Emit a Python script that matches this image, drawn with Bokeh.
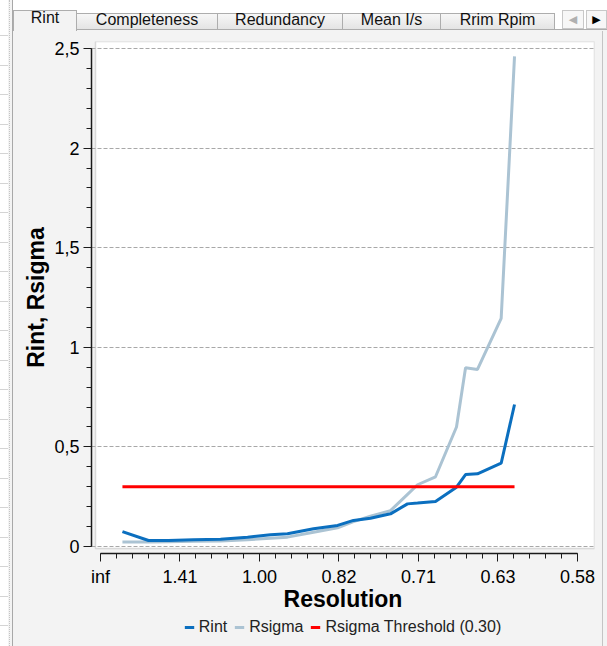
from bokeh.plotting import figure
from bokeh.layouts import column, row
from bokeh.models import FixedTicker, Legend, LegendItem, BoxAnnotation, Range1d, Div
from bokeh.embed import file_html
from bokeh.resources import INLINE

# ---- data (x in 1/d^2 units, labelled as resolution d) ----
x_tick_pos = [0.0, 0.5, 1.0, 1.5, 2.0, 2.5, 3.0]
resolution_labels = ["inf", "1.41", "1.00", "0.82", "0.71", "0.63", "0.58"]
y_tick_pos = [0.0, 0.5, 1.0, 1.5, 2.0, 2.5]
y_tick_labels = ["0", "0,5", "1", "1,5", "2", "2,5"]

inv_d2 = [0.138, 0.302, 0.428, 0.585, 0.755, 0.925, 1.069, 1.176, 1.340, 1.491, 1.591,
          1.698, 1.824, 1.931, 1.994, 2.107, 2.239, 2.296, 2.371, 2.520, 2.604]
rint = [0.075, 0.030, 0.030, 0.034, 0.037, 0.047, 0.059, 0.064, 0.089, 0.106, 0.131,
        0.142, 0.164, 0.214, 0.218, 0.226, 0.298, 0.361, 0.365, 0.418, 0.713]
rsigma = [0.022, 0.022, 0.024, 0.026, 0.028, 0.034, 0.042, 0.047, 0.072, 0.094, 0.125,
          0.152, 0.180, 0.262, 0.310, 0.350, 0.600, 0.897, 0.889, 1.145, 2.460]
threshold = 0.30

series_names = ["Rint", "Rsigma", "Rsigma Threshold (0.30)"]
series_colors = ["#0b6fbf", "#abc3d3", "#ff0000"]

tab_names = ["Rint", "Completeness", "Redundancy", "Mean I/s", "Rrim Rpim"]
tab_edges = [0, 63, 204, 329, 427, 541]

FONT = "Liberation Sans"
BG = "#f3f3f3"
LW = 13          # left strip width
RW = 6           # right strip width
TW = 607 - LW    # tab strip width
W = TW - RW      # chart width
TH = 31          # tab strip height
MH = 586         # main chart height
LH = 646 - TH - MH

# ---------------- left strip ----------------
left_html = (
    f"<div style='position:relative;width:{LW}px;height:646px;background:{BG};overflow:hidden'>"
    "<div style='position:absolute;left:0;top:0;width:8px;height:646px;background:white;"
    "background-image:repeating-linear-gradient(to bottom, transparent 0px, transparent 28.5px,"
    " #d4d4d4 28.5px, #d4d4d4 29.5px);background-position:0 7px'></div>"
    "<div style='position:absolute;left:9px;top:0;width:0;height:646px;border-left:1px dotted #c4c4c4'></div>"
    "<div style='position:absolute;left:12px;top:0;width:1px;height:646px;background:#a8a8a8'></div>"
    "</div>")
left_div = Div(text=left_html, width=LW, height=646, margin=0)

# ---------------- right strip ----------------
right_html = (f"<div style='position:relative;width:{RW}px;height:{646 - TH}px;background:{BG}'>"
              f"<div style='position:absolute;left:1px;top:0;width:1px;height:{646 - TH}px;"
              "background:#c4c4c4'></div></div>")
right_div = Div(text=right_html, width=RW, height=646 - TH, margin=0)

# ---------------- tab strip ----------------
parts = [f"<div style='position:relative;width:{TW}px;height:{TH}px;background:white;overflow:hidden;"
         f"font-family:\"{FONT}\";font-size:16px;color:#111'>",
         f"<div style='position:absolute;left:0;top:29px;width:{TW}px;height:2px;background:{BG};"
         "border-top:1px solid #adadad;box-sizing:border-box'></div>"]
for i, name in enumerate(tab_names):
    l, r = tab_edges[i], tab_edges[i + 1]
    if i == 0:
        parts.append(f"<div style='position:absolute;left:{l}px;top:10px;width:{r - l + 1}px;height:21px;"
                     f"box-sizing:border-box;background:{BG};border:1px solid #adadad;border-bottom:none;"
                     f"text-align:center;line-height:14px;white-space:nowrap'>{name}</div>")
    else:
        parts.append(f"<div style='position:absolute;left:{l}px;top:13px;width:{r - l + 1}px;height:17px;"
                     "box-sizing:border-box;background:linear-gradient(#f7f7f7,#e4e4e4);"
                     "border:1px solid #adadad;text-align:center;line-height:11px;white-space:nowrap'>"
                     f"{name}</div>")
for j, (l, r) in enumerate([(549, 571), (573, 594)]):
    parts.append(f"<div style='position:absolute;left:{l}px;top:10px;width:{r - l}px;height:19px;"
                 "box-sizing:border-box;background:#f7f7f7;border:1px solid #c8c8c8;text-align:center;"
                 f"line-height:17px;font-family:\"DejaVu Sans\";font-size:11px;"
                 f"color:{'#b0b0b0' if j == 0 else '#000'}'>{'&#9664;' if j == 0 else '&#9654;'}</div>")
parts.append("</div>")
tabs_div = Div(text="".join(parts), width=TW, height=TH, margin=0)

# ---------------- main chart ----------------
p = figure(width=W, height=MH,
           x_range=Range1d(-0.0566, 3.107), y_range=Range1d(-0.0351, 2.535),
           output_backend="svg", toolbar_location=None,
           min_border_left=91 - LW, min_border_right=W - (594 - LW), min_border_top=10,
           min_border_bottom=64)
p.background_fill_color = BG
p.border_fill_color = BG
p.outline_line_color = None

# white plot panel
p.add_layout(BoxAnnotation(left=-0.0314, right=3.107, bottom=-0.010, top=2.535,
                           fill_color="white", fill_alpha=1.0,
                           line_color="#8f8f8f", line_width=1.5, level="image"))

p.xgrid.visible = False
p.ygrid.ticker = FixedTicker(ticks=y_tick_pos)
p.ygrid.grid_line_color = "#a8a8a8"
p.ygrid.grid_line_dash = "4 2"
p.ygrid.grid_line_width = 1

p.xaxis.ticker = FixedTicker(ticks=x_tick_pos, minor_ticks=[i / 10 for i in range(31)])
p.xaxis.major_label_overrides = {t: l for t, l in zip(x_tick_pos, resolution_labels)}
p.xaxis.bounds = (0, 3)
p.yaxis.ticker = FixedTicker(ticks=y_tick_pos, minor_ticks=[i / 10 for i in range(26)])
p.yaxis.major_label_overrides = {t: l for t, l in zip(y_tick_pos, y_tick_labels)}
p.yaxis.bounds = (0, 2.5)

for ax in (p.xaxis[0], p.yaxis[0]):
    ax.axis_line_color = "#1a1a1a"
    ax.axis_line_width = 1.5
    ax.major_tick_line_color = "#1a1a1a"
    ax.minor_tick_line_color = "#1a1a1a"
    ax.major_tick_out = 8
    ax.major_tick_in = 0
    ax.minor_tick_out = 5
    ax.minor_tick_in = 0
    ax.major_label_text_font = FONT
    ax.major_label_text_font_size = "18px"
    ax.major_label_text_color = "black"
    ax.axis_label_text_font = FONT
    ax.axis_label_text_font_size = "23px"
    ax.axis_label_text_font_style = "bold"
    ax.axis_label_text_color = "black"

p.xaxis.axis_label = "Resolution"
p.yaxis.axis_label = "Rint, Rsigma"
p.xaxis.major_label_standoff = 5
p.yaxis.major_label_standoff = 4
p.xaxis.axis_label_standoff = -4
p.yaxis.axis_label_standoff = 2

p.line(inv_d2, rsigma, line_color=series_colors[1], line_width=3)
p.line(inv_d2, rint, line_color=series_colors[0], line_width=3)
p.line([inv_d2[0], inv_d2[-1]], [threshold, threshold], line_color=series_colors[2], line_width=3)

# ---------------- legend strip ----------------
lf = figure(width=W, height=LH, x_range=Range1d(0, 1), y_range=Range1d(0, 1),
            output_backend="svg", toolbar_location=None,
            x_axis_type=None, y_axis_type=None,
            min_border_left=91 - LW, min_border_right=W - (594 - LW),
            min_border_top=0, min_border_bottom=0)
lf.outline_line_color = None
lf.background_fill_color = BG
lf.border_fill_color = BG
lf.grid.visible = False
items = []
for name, col in zip(series_names, series_colors):
    r = lf.line([5, 6], [5, 6], line_color=col, line_width=3)   # off-range: legend glyph only
    items.append(LegendItem(label=name, renderers=[r]))
legend = Legend(items=items, orientation="horizontal", location="top_center",
                label_text_font=FONT, label_text_font_size="16px", label_text_color="#222222",
                glyph_width=10, glyph_height=16, label_height=16, label_standoff=5, spacing=7,
                padding=0, margin=1, border_line_color=None, background_fill_alpha=0)
lf.add_layout(legend, "center")

chart_col = column(p, lf, spacing=0, styles={"background-color": BG})
body = column(tabs_div, row(chart_col, right_div, spacing=0, styles={"background-color": BG}),
              spacing=0, styles={"background-color": BG})
layout = row(left_div, body, spacing=0, styles={"background-color": BG})
open("out.html", "w").write(file_html(layout, INLINE))
